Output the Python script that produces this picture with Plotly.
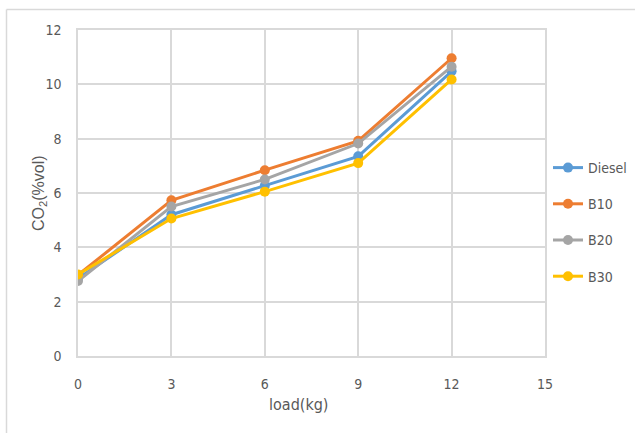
import plotly.graph_objects as go

# Engine load (kg)
load_kg = [0, 3, 6, 9, 12]

# CO2 emissions (% vol) per fuel blend
co2_diesel = [2.85, 5.2, 6.27, 7.35, 10.48]
co2_b10 = [2.98, 5.73, 6.84, 7.92, 10.96]
co2_b20 = [2.76, 5.5, 6.5, 7.82, 10.65]
co2_b30 = [3.0, 5.06, 6.05, 7.1, 10.18]

series_names = ["Diesel", "B10", "B20", "B30"]
series_values = [co2_diesel, co2_b10, co2_b20, co2_b30]
series_colors = ["#5B9BD5", "#ED7D31", "#A5A5A5", "#FFC000"]

x_ticks = [0, 3, 6, 9, 12, 15]
y_ticks = [0, 2, 4, 6, 8, 10, 12]

GRID = "#d9d9d9"
TEXT = "#595959"
FONT = "Liberation Sans Narrow, DejaVu Sans Condensed, Liberation Sans, sans-serif"

fig = go.Figure()
for name, vals, col in zip(series_names, series_values, series_colors):
    fig.add_trace(go.Scatter(
        x=load_kg, y=vals, name=name, mode="lines+markers",
        legendgroup=name,
        line=dict(color=col, width=3),
        marker=dict(color=col, size=10, symbol="circle"),
    ))

W, H = 635, 433
L, R, T, B = 78, 90, 30, 77
pw, ph = W - L - R, H - T - B


def px_x(px):
    return (px - L) / pw


def px_y(py):
    return (H - B - py) / ph


fig.update_layout(
    width=W, height=H,
    margin=dict(l=L, r=R, t=T, b=B, autoexpand=False),
    paper_bgcolor="white", plot_bgcolor="white",
    font=dict(family=FONT, color=TEXT, size=14),
    showlegend=True,
    legend=dict(
        x=px_x(548), y=px_y(152), xanchor="left", yanchor="top",
        font=dict(family=FONT, size=14, color=TEXT),
        tracegroupgap=15, bgcolor="rgba(0,0,0,0)",
    ),
    xaxis=dict(
        range=[0, 15], tickvals=x_ticks, ticktext=[str(v) for v in x_ticks],
        showgrid=True, gridcolor=GRID, gridwidth=1.5,
        showline=True, linecolor=GRID, linewidth=1.5, mirror=True,
        zeroline=False, ticks="", ticklabelstandoff=14,
        tickfont=dict(family=FONT, size=14, color=TEXT),
    ),
    yaxis=dict(
        range=[0, 12], tickvals=y_ticks, ticktext=[str(v) for v in y_ticks],
        showgrid=True, gridcolor=GRID, gridwidth=1.5,
        showline=True, linecolor=GRID, linewidth=1.5, mirror=True,
        zeroline=False, ticks="", ticklabelstandoff=12,
        tickfont=dict(family=FONT, size=14, color=TEXT),
    ),
    annotations=[
        dict(text="load(kg)", xref="paper", yref="paper",
             x=px_x(298), y=px_y(404), xanchor="center", yanchor="middle",
             showarrow=False, font=dict(family=FONT, size=16, color=TEXT)),
        dict(text="CO<sub>2</sub>(%vol)", xref="paper", yref="paper",
             x=px_x(39), y=0.5, xanchor="center", yanchor="middle",
             textangle=-90, showarrow=False,
             font=dict(family="Liberation Sans, Arial, sans-serif", size=16, color=TEXT)),
    ],
    shapes=[
        # chart frame (top and left edges)
        dict(type="line", xref="paper", yref="paper",
             x0=px_x(6.5), x1=px_x(640), y0=px_y(9.5), y1=px_y(9.5),
             line=dict(color=GRID, width=1.5)),
        dict(type="line", xref="paper", yref="paper",
             x0=px_x(6.5), x1=px_x(6.5), y0=px_y(9.5), y1=px_y(440),
             line=dict(color=GRID, width=1.5)),
    ],
)

fig.write_html("out.html")
